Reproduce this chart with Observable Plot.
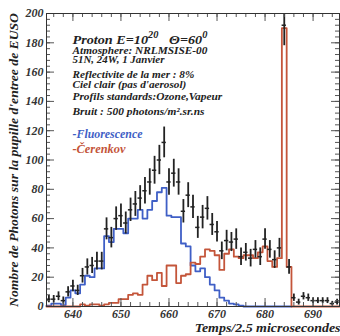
<!DOCTYPE html>
<html><head><meta charset="utf-8">
<script src="https://cdn.jsdelivr.net/npm/d3@7"></script>
<script src="https://cdn.jsdelivr.net/npm/@observablehq/plot@0.6"></script>
<style>body{margin:0;background:#fff}</style>
</head><body><div id="chart"></div>
<script>
// ---- data (bins of 1 unit, first bin centred on 635) ----
const firstBin = 635;
const fluorescence = [0.5,2,2,1,6,11,9,15,21,20,26,26,48,44,53,53,50,60,60,66,60,66,72,78,81,62,61,61,43,41,28,24,26,20,15,11,6,4,2,1.5,0.5,0,0,0,0,0,0,0,0,0,0];
const cerenkov = [0,0,0,0,0,0,0,1.5,0.5,1.5,1.5,0.5,1.5,2.5,2.5,5,5,8,9,8,15,21,18,23,14,28,28,16,21,22,30,29,34,39,38,35,25,36,39,34,33,35,35,33,37,41,31,27,33,190,27,0,0,0,0,0,0,0,0,0,0];
const mesures = [5,5,7,4,10,14,11,21,27,28,31,31,53,47,60,62,57,66,70,74,79,85,93,100,112,85,91,85,65,76,68,54,61,67,56,51,38,45,44,46,34,37,33,39,34,46,39,32,40,192,27,6,3,7,6,4,4,4,4,2,3];
const erreurs = [2.5,2.5,3,2.5,3.5,4,3.5,5,5.5,5.5,6,6,7.5,7,8,8,7.5,8,8.5,8.5,9,9,9.5,10,10.5,9,9.5,9,8,8.5,8,7.5,8,8,7.5,7,6,7,6.5,7,6,6,6,6,6,7,6,6,6.5,14,5,2.5,2,2.5,2.5,2,2,2,2,1.5,2];
const xTickLabels = [640,650,660,670,680,690];
const yTickLabels = [0,20,40,60,80,100,120,140,160,180,200];
const titleText = "Proton E=10^20   Θ=60^0";
const infoLines = ["Atmosphere: NRLMSISE-00","51N, 24W, 1 Janvier","Reflectivite de la mer : 8%","Ciel clair (pas d'aerosol)","Profils standards:Ozone,Vapeur","Bruit : 500 photons/m².sr.ns"];
const legendLabels = ["-Fluorescence","-Čerenkov"];
const xTitle = "Temps/2.5 microsecondes";
const yTitle = "Nombre de Photons sur la pupille d'entree de EUSO";

// ---- styling / layout ----
const BLUE = "#3f5fc6", RED = "#c4553a", INK = "#222";
const FONT = "'Liberation Serif','Times New Roman',serif";
const W = 340, H = 336, mL = 46, mR = 1, mT = 13, mB = 30;
const pw = W - mL - mR, ph = H - mT - mB;
const infoDy = [33.5, 42.5, 57.5, 67.5, 79.5, 94.5];
// widths of the (horizontally stretched) reference texts
const textWidths = new Map([
  [titleText, 135], [infoLines[0], 135], [infoLines[1], 92], [infoLines[2], 122],
  [infoLines[3], 114], [infoLines[4], 150], [infoLines[5], 132],
  [legendLabels[0], 70], [legendLabels[1], 53], [xTitle, 146], [yTitle, 294]
]);

const steps = vals => {
  const p = vals.map((v, i) => ({x: firstBin + i - 0.5, y: v}));
  p.push({x: firstBin + vals.length - 0.5, y: vals[vals.length - 1]});
  return p;
};
const pts = mesures.map((v, i) => ({x: firstBin + i, v, e: erreurs[i]}));
const xMinor = d3.range(636, 696, 2), xMajor = d3.range(640, 700, 10);
const yMinor = d3.range(0, 201, 4), yMajor = d3.range(0, 201, 20);
const txt = {fontFamily: FONT, fontWeight: "bold", fontStyle: "italic"};

const svg = Plot.plot({
  width: W, height: H,
  marginLeft: mL, marginRight: mR, marginTop: mT, marginBottom: mB,
  style: {fontFamily: FONT, background: "#fff", color: "#333"},
  x: {domain: [634.5, 695.5]},
  y: {domain: [0, 200]},
  marks: [
    Plot.line(steps(fluorescence), {x: "x", y: "y", curve: "step-after", stroke: BLUE, strokeWidth: 1.8}),
    Plot.line(steps(cerenkov), {x: "x", y: "y", curve: "step-after", stroke: RED, strokeWidth: 1.8}),
    Plot.ruleX(pts, {x: "x", y1: d => d.v - d.e, y2: d => d.v + d.e, stroke: INK, strokeWidth: 1.8, clip: true}),
    Plot.ruleY(pts, {y: "v", x1: d => d.x - 0.45, x2: d => d.x + 0.45, stroke: INK, strokeWidth: 1.5, clip: true}),
    Plot.tickX(xMinor, {x: d => d, insetTop: ph - 4, stroke: "#555"}),
    Plot.tickX(xMinor, {x: d => d, insetBottom: ph - 4, stroke: "#555"}),
    Plot.tickX(xMajor, {x: d => d, insetTop: ph - 8, stroke: "#555"}),
    Plot.tickX(xMajor, {x: d => d, insetBottom: ph - 8, stroke: "#555"}),
    Plot.tickY(yMinor, {y: d => d, insetRight: pw - 4, stroke: "#555"}),
    Plot.tickY(yMinor, {y: d => d, insetLeft: pw - 4, stroke: "#555"}),
    Plot.tickY(yMajor, {y: d => d, insetRight: pw - 8, stroke: "#555"}),
    Plot.tickY(yMajor, {y: d => d, insetLeft: pw - 8, stroke: "#555"}),
    Plot.frame({stroke: "#333", strokeWidth: 1}),
    Plot.axisX({ticks: xTickLabels, tickSize: 0, tickPadding: 3, label: null, fontSize: 12, ...txt, fill: "#333"}),
    Plot.axisY({ticks: yTickLabels, tickSize: 0, tickPadding: 3, label: null, fontSize: 12, ...txt, fill: "#333"}),
    Plot.text([titleText], {frameAnchor: "top-left", textAnchor: "start", text: d => d, dx: 26, dy: 21, lineAnchor: "top", fontSize: 13, ...txt, fill: INK}),
    ...infoLines.map((s, i) => Plot.text([s], {frameAnchor: "top-left", textAnchor: "start", text: d => d, dx: 26, dy: infoDy[i], lineAnchor: "top", fontSize: 10.5, ...txt, fill: INK})),
    Plot.text([legendLabels[0]], {frameAnchor: "top-left", textAnchor: "start", text: d => d, dx: 26, dy: 116, lineAnchor: "top", fontSize: 11.5, ...txt, fill: BLUE}),
    Plot.text([legendLabels[1]], {frameAnchor: "top-left", textAnchor: "start", text: d => d, dx: 26, dy: 131, lineAnchor: "top", fontSize: 11.5, ...txt, fill: RED}),
    Plot.text([xTitle], {frameAnchor: "bottom-right", text: d => d, textAnchor: "end", dx: 1, dy: 17, lineAnchor: "top", fontSize: 12, ...txt, fill: INK}),
    Plot.text([yTitle], {frameAnchor: "left", text: d => d, rotate: -90, textAnchor: "middle", dx: -33, lineAnchor: "middle", fontSize: 12.5, ...txt, fill: INK})
  ]
});

document.getElementById("chart").appendChild(svg);

svg.querySelectorAll("text").forEach(t => {
  const key = t.textContent;
  if (!textWidths.has(key)) return;
  if (key === titleText) {
    t.textContent = "";
    t.style.whiteSpace = "pre";
    const parts = [["Proton E=10", 0, null], ["20", -6, 9.5], ["   Θ=60", 6, null], ["0", -6, 9.5]];
    for (const [p, dy, fs] of parts) {
      const ts = document.createElementNS("http://www.w3.org/2000/svg", "tspan");
      ts.textContent = p;
      if (dy) ts.setAttribute("dy", dy);
      if (fs) ts.setAttribute("font-size", fs);
      t.appendChild(ts);
    }
  }
  const len = t.getComputedTextLength();
  if (!(len > 0)) return;
  const sx = textWidths.get(key) / len;
  const tr = t.getAttribute("transform");
  if (tr) {
    t.setAttribute("transform", `${tr} scale(${sx},1)`);
  } else {
    const x = +(t.getAttribute("x") || 0), y = +(t.getAttribute("y") || 0);
    t.removeAttribute("x"); t.removeAttribute("y");
    t.setAttribute("transform", `translate(${x},${y}) scale(${sx},1)`);
  }
});
</script>
</body></html>
